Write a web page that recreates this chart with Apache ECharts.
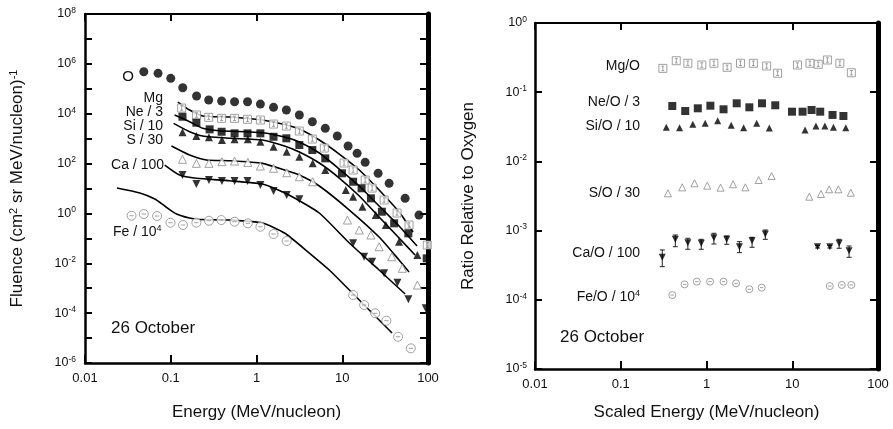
<!DOCTYPE html>
<html><head><meta charset="utf-8">
<script src="https://cdn.jsdelivr.net/npm/echarts@6/dist/echarts.min.js"></script>
<style>html,body{margin:0;padding:0;background:#fff}#c{width:893px;height:429px}</style>
</head><body><div id="c"></div>
<script>
// ---------- tick values ----------
const energyTicks = [0.01, 0.1, 1, 10, 100];
const fluenceTicks = [1e-6,1e-5,1e-4,1e-3,1e-2,1e-1,1,1e1,1e2,1e3,1e4,1e5,1e6,1e7,1e8];
const fluenceLabels = [1e-6,1e-4,1e-2,1,1e2,1e4,1e6,1e8];
const ratioTicks = [1e-5,1e-4,1e-3,1e-2,1e-1,1];

// ---------- left panel: fluence (markers) ----------
const oE  = [0.0485,0.0711,0.1,0.138,0.2,0.277,0.392,0.555,0.786,1.11,1.58,2.23,3.16,4.48,6.34,8.75,11.7,14.9,18.5,26.2,35.2,54.1,78.5];
const oF  = [4.83e5,4.17e5,2.62e5,1.10e5,5.12e4,3.54e4,3.23e4,3.03e4,3.03e4,2.44e4,1.80e4,1.41e4,8.85e3,4.77e3,2.59e3,1.27e3,506,258,112,40.6,16.1,4.03,0.86];
const mgE = [0.134,0.200,0.277,0.392,0.555,0.786,1.11,1.58,2.23,3.16,4.48,6.18,10.5,13.4,18.5,22.3,30.8,43.6,60.1,98];
const mgF = [1.69e4,8.85e3,7.16e3,6.53e3,6.53e3,5.95e3,5.58e3,3.85e3,3.21e3,2.02e3,964,420,105,55.1,21.9,10.4,3.45,1.04,0.343,0.054];
const neE = [0.137,0.199,0.284,0.392,0.555,0.786,1.11,1.58,2.23,3.16,4.48,6.34,9.92,13.4,16.8,21.6,29.0,40.3,59.0,96.6];
const neF = [7.57e3,4.35e3,2.36e3,1.89e3,1.63e3,1.63e3,1.63e3,1.19e3,1.03e3,554,349,162,40.6,18.7,10.2,4.03,1.17,0.401,0.159,0.0158];
const siE = [0.137,0.199,0.279,0.395,0.555,0.792,1.11,1.58,2.25,3.16,4.52,6.34,11.0,13.4,17.2,24.6,32.2,46.0,75.2];
const siF = [1.79e3,1.27e3,1.13e3,880,938,938,752,474,298,188,102,55.1,8.68,4.68,1.86,0.863,0.343,0.0733,0.0214];
const sE  = [0.137,0.199,0.279,0.395,0.555,0.792,1.11,1.58,2.25,3.16,4.52,11.5,15.8,21.6,26.9,37.8,50.2,75.2];
const sF  = [148,102,102,119,126,112,79.7,64.4,42.9,29.6,18.7,0.543,0.216,0.136,0.0462,0.0183,0.00628,0.00134];
const caE = [0.137,0.199,0.279,0.395,0.555,0.786,1.11,1.58,2.25,3.16,13.4,18.0,22.3,30.8,44.0,59.0,94.0];
const caF = [34.7,15.1,21.9,19.9,19.9,19.9,13.8,7.92,5.47,3.68,0.0632,0.0183,0.0116,0.00396,0.00166,3.58e-4,1.56e-4];
const feE = [0.0349,0.0485,0.0693,0.0993,0.139,0.199,0.279,0.389,0.555,0.792,1.11,1.58,2.25,13.4,18.0,24.2,32.7,44.8,63.0];
const feF = [0.809,0.946,0.787,0.424,0.343,0.424,0.509,0.543,0.465,0.401,0.293,0.149,0.0782,5.33e-4,2.12e-4,9.84e-5,4.97e-5,1.13e-5,3.88e-6];

// ---------- left panel: model curves ----------
const mgLineE = [0.121,0.166,0.236,0.486,1.17,2.01,3.16,5.40,9.23,15.8,26.9,46.0,66.9];
const mgLineF = [2.94e4,1.41e4,8.07e3,7.36e3,5.58e3,3.85e3,2.43e3,880,241,55.1,8.68,1.14,0.179];
const neLineE = [0.111,0.166,0.236,0.371,1.17,2.12,3.16,5.40,9.23,15.8,26.9,46.0,74.5];
const neLineF = [8.85e3,4.77e3,2.59e3,2.08e3,1.73e3,1.16e3,731,265,60.4,12.6,1.98,0.312,0.049];
const siLineE = [0.108,0.166,0.236,0.486,1.17,2.12,3.16,5.40,9.23,15.8,26.9,46.0,70.6];
const siLineF = [4.11e3,1.89e3,1.27e3,1.03e3,880,506,290,105,26.3,4.99,0.717,0.103,0.0214];
const sLineE  = [0.102,0.166,0.260,0.486,1.17,2.12,3.16,5.40,12.1,26.9,46.0,60.1];
const sLineF  = [506,220,139,130,102,55.1,34.7,12.6,1.37,0.113,0.0135,0.00446];
const caLineE = [0.0851,0.127,0.199,0.486,1.17,1.85,2.92,5.40,12.1,26.9,54.1];
const caLineF = [87.4,34.7,25.6,20.5,15.1,8.29,3.78,1.04,0.065,0.00537,5.85e-4];
const feLineE = [0.0236,0.0436,0.0652,0.0851,0.117,0.190,0.300,0.486,1.17,2.12,4.13,7.06,12.1,20.6,38.1];
const feLineF = [10.4,6.58,3.78,1.98,0.946,0.596,0.554,0.543,0.412,0.164,0.0258,0.00537,8.46e-4,1.33e-4,1.59e-5];

// ---------- right panel: abundance ratios ----------
const mgoE = [0.310,0.444,0.606,0.882,1.22,1.74,2.49,3.52,5.03,6.75,11.5,16.1,20.1,25.7,35.9,48.9];
const mgoR = [0.221,0.285,0.262,0.247,0.262,0.229,0.262,0.262,0.239,0.188,0.247,0.262,0.253,0.292,0.262,0.191];
const neoE = [0.399,0.565,0.792,1.11,1.58,2.25,3.16,4.44,6.34,9.93,13.2,16.8,21.2,29.5,39.5];
const neoR = [0.0632,0.0535,0.0585,0.0638,0.0566,0.0691,0.0605,0.0691,0.0647,0.0523,0.0523,0.0553,0.0523,0.0469,0.0453];
const sioE = [0.340,0.485,0.693,0.966,1.35,1.94,2.71,3.85,5.40,14.1,18.9,24.0,30.2,42.1];
const sioR = [0.0311,0.0307,0.0344,0.0356,0.0388,0.0332,0.0307,0.0356,0.0304,0.0284,0.0325,0.0325,0.0311,0.0307];
const soE  = [0.355,0.521,0.725,1.02,1.46,2.04,2.84,4.06,5.74,15.8,21.6,26.9,34.5,48.2];
const soR  = [3.46e-3,4.22e-3,4.83e-3,4.45e-3,4.17e-3,4.67e-3,4.22e-3,5.38e-3,6.15e-3,3.09e-3,3.38e-3,3.95e-3,3.95e-3,3.53e-3];
const caoE = [0.305,0.433,0.606,0.868,1.22,1.72,2.42,3.40,4.85,19.7,27.4,35.2,46.0];
const caoR = [4.11e-4,7.48e-4,6.68e-4,6.55e-4,7.89e-4,7.48e-4,5.85e-4,7.15e-4,8.93e-4,5.85e-4,5.85e-4,6.55e-4,5.13e-4];
const caoLo = [3.01e-4,5.85e-4,5.37e-4,5.37e-4,6.40e-4,6.34e-4,4.80e-4,5.74e-4,7.48e-4,5.6e-4,5.6e-4,5.55e-4,4.11e-4];
const caoHi = [5.25e-4,8.63e-4,7.74e-4,7.48e-4,9.14e-4,8.36e-4,6.92e-4,8.00e-4,1.02e-3,6.1e-4,6.1e-4,7.48e-4,5.99e-4];
const feoE = [0.399,0.555,0.771,1.10,1.58,2.21,3.16,4.40,27.4,37.8,48.9];
const feoR = [1.17e-4,1.67e-4,1.83e-4,1.83e-4,1.83e-4,1.73e-4,1.42e-4,1.50e-4,1.58e-4,1.64e-4,1.64e-4];

// ---------- styling ----------
const FONT = '"Liberation Sans", Arial, Helvetica, sans-serif';
const INK = '#111';
const GRAY = '#8a8a8a';
const SQ_I = 'path://M0,0L10,0L10,10L0,10Z M3.2,2.2L6.8,2.2 M5,2.2L5,7.8 M3.2,7.8L6.8,7.8';
const CIRC_DASH = 'path://M0,5A5,5,0,1,1,10,5A5,5,0,1,1,0,5Z M2.6,5L7.4,5';

const pairs = (xs, ys) => xs.map((x, i) => [x, ys[i]]);
const fmtE = v => String(v);
const fmtPow = v => { const e = Math.round(Math.log10(v)); return '{b|10}{s|' + (e < 0 ? '-' : '') + Math.abs(e) + '}'; };
const powRich = {
  b: {fontSize: 12.5, fontFamily: FONT, color: INK},
  s: {fontSize: 8.5, fontFamily: FONT, color: INK, padding: [0, 0, 7, 0]}
};

function xAxes(grid, nameText, gap) {
  return [
    {gridIndex: grid, type: 'log', logBase: 10, min: 0.01, max: 100, position: 'bottom',
     axisLine: {show: true, onZero: false, lineStyle: {color: '#000', width: 2.5}},
     axisTick: {show: true, inside: true, length: 8, customValues: energyTicks, lineStyle: {color: '#000', width: 2}},
     minorTick: {show: false}, splitLine: {show: false},
     axisLabel: {show: true, customValues: energyTicks, formatter: fmtE, margin: 9, fontSize: 13, fontFamily: FONT, color: INK},
     name: nameText, nameLocation: 'middle', nameGap: gap,
     nameTextStyle: {fontSize: 17, fontFamily: FONT, color: INK}},
    {gridIndex: grid, type: 'log', logBase: 10, min: 0.01, max: 100, position: 'top',
     axisLine: {show: true, onZero: false, lineStyle: {color: '#000', width: 2}},
     axisTick: {show: true, inside: true, length: 7, customValues: energyTicks, lineStyle: {color: '#000', width: 2}},
     minorTick: {show: false}, splitLine: {show: false}, axisLabel: {show: false}}
  ];
}
function yAxes(grid, min, max, ticks, labels, nameText, nameRich, gap, margin) {
  return [
    {gridIndex: grid, type: 'log', logBase: 10, min: min, max: max, position: 'left',
     axisLine: {show: true, onZero: false, lineStyle: {color: '#000', width: 2.5}},
     axisTick: {show: true, inside: true, length: 7, customValues: ticks, lineStyle: {color: '#000', width: 2}},
     minorTick: {show: false}, splitLine: {show: false},
     axisLabel: {show: true, customValues: labels, formatter: fmtPow, rich: powRich, margin: margin},
     name: nameText, nameLocation: 'middle', nameGap: gap,
     nameTextStyle: {rich: nameRich}},
    {gridIndex: grid, type: 'log', logBase: 10, min: min, max: max, position: 'right',
     axisLine: {show: true, onZero: false, lineStyle: {color: '#000', width: 5}},
     axisTick: {show: true, inside: true, length: 8, customValues: ticks, lineStyle: {color: '#000', width: 2}},
     minorTick: {show: false}, splitLine: {show: false}, axisLabel: {show: false}}
  ];
}
const nameRich = {
  n: {fontSize: 17, fontFamily: FONT, color: INK},
  s: {fontSize: 11, fontFamily: FONT, color: INK, padding: [0, 0, 8, 0]}
};

function curve(xs, ys) {
  return {type: 'line', xAxisIndex: 0, yAxisIndex: 0, data: pairs(xs, ys), showSymbol: false,
          smooth: 0.2, lineStyle: {color: '#000', width: 1.6}, silent: true, z: 2};
}
function marks(ax, xs, ys, symbol, size, filled, rotate) {
  return {type: 'scatter', xAxisIndex: ax, yAxisIndex: ax, data: pairs(xs, ys), symbol: symbol,
          symbolSize: size, symbolRotate: rotate || 0, silent: true, z: 3,
          itemStyle: filled ? {color: '#000', borderWidth: 0}
                            : {color: '#fff', borderColor: GRAY, borderWidth: 1}};
}

const errBars = {
  type: 'custom', xAxisIndex: 2, yAxisIndex: 2, silent: true, z: 3,
  data: caoE.map((e, i) => [e, caoLo[i], caoHi[i]]),
  encode: {x: 0, y: [1, 2]},
  renderItem: (params, api) => {
    const lo = api.coord([api.value(0), api.value(1)]);
    const hi = api.coord([api.value(0), api.value(2)]);
    const w = 2.5, st = {stroke: '#222', lineWidth: 1};
    return {type: 'group', children: [
      {type: 'line', shape: {x1: lo[0], y1: lo[1], x2: hi[0], y2: hi[1]}, style: st},
      {type: 'line', shape: {x1: lo[0] - w, y1: lo[1], x2: lo[0] + w, y2: lo[1]}, style: st},
      {type: 'line', shape: {x1: hi[0] - w, y1: hi[1], x2: hi[0] + w, y2: hi[1]}, style: st}
    ]};
  }
};

function txt(x, y, text, align, size, rich) {
  const st = {text: text, x: 0, y: 0, fill: INK, font: size + 'px ' + FONT,
              align: align, verticalAlign: 'middle', textAlign: align, textVerticalAlign: 'middle'};
  if (rich) st.rich = rich;
  return {type: 'text', x: x, y: y, silent: true, style: st};
}
const labRich = {
  n: {fontSize: 14, fontFamily: FONT, color: INK},
  s: {fontSize: 9, fontFamily: FONT, color: INK, padding: [0, 0, 7, 0]}
};

const chart = echarts.init(document.getElementById('c'), null, {renderer: 'canvas'});
chart.setOption({
  animation: false,
  backgroundColor: '#fff',
  grid: [
    {left: 85, top: 14, width: 343, height: 349, containLabel: false},
    {left: 535, top: 23, width: 343, height: 346, containLabel: false}
  ],
  xAxis: [].concat(xAxes(0, 'Energy (MeV/nucleon)', 41), xAxes(1, 'Scaled Energy (MeV/nucleon)', 35)),
  yAxis: [].concat(
    yAxes(0, 1e-6, 1e8, fluenceTicks, fluenceLabels, '{n|Fluence (cm}{s|2}{n| sr MeV/nucleon)}{s|-1}', nameRich, 58, 9),
    yAxes(1, 1e-5, 1, ratioTicks, ratioTicks, '{n|Ratio Relative to Oxygen}', nameRich, 58, 8)
  ),
  series: [
    curve(mgLineE, mgLineF), curve(neLineE, neLineF), curve(siLineE, siLineF),
    curve(sLineE, sLineF), curve(caLineE, caLineF), curve(feLineE, feLineF),
    marks(0, oE, oF, 'circle', 9, true),
    marks(0, mgE, mgF, SQ_I, 8, false),
    marks(0, neE, neF, 'rect', 8, true),
    marks(0, siE, siF, 'triangle', 8, true),
    marks(0, sE, sF, 'triangle', 8, false),
    marks(0, caE, caF, 'triangle', 8, true, 180),
    marks(0, feE, feF, CIRC_DASH, 9, false),
    errBars,
    marks(2, mgoE, mgoR, SQ_I, 8, false),
    marks(2, neoE, neoR, 'rect', 8, true),
    marks(2, sioE, sioR, 'triangle', 7, true),
    marks(2, soE, soR, 'triangle', 7, false),
    marks(2, caoE, caoR, 'triangle', 7, true, 180),
    marks(2, feoE, feoR, CIRC_DASH, 7, false)
  ],
  graphic: [
    txt(134, 77, 'O', 'right', 15),
    txt(163, 98, 'Mg', 'right', 14),
    txt(163, 112, 'Ne / 3', 'right', 14),
    txt(163, 126, 'Si / 10', 'right', 14),
    txt(163, 140, 'S / 30', 'right', 14),
    txt(164, 165, 'Ca / 100', 'right', 14),
    txt(113, 232, '{n|Fe / 10}{s|4}', 'left', 14, labRich),
    txt(111, 328, '26 October', 'left', 17),
    txt(640, 66, 'Mg/O', 'right', 14),
    txt(640, 102, 'Ne/O / 3', 'right', 14),
    txt(640, 126, 'Si/O / 10', 'right', 14),
    txt(640, 193, 'S/O / 30', 'right', 14),
    txt(640, 253, 'Ca/O / 100', 'right', 14),
    txt(640, 297, '{n|Fe/O / 10}{s|4}', 'right', 14, labRich),
    txt(560, 337, '26 October', 'left', 17)
  ]
});
</script></body></html>
